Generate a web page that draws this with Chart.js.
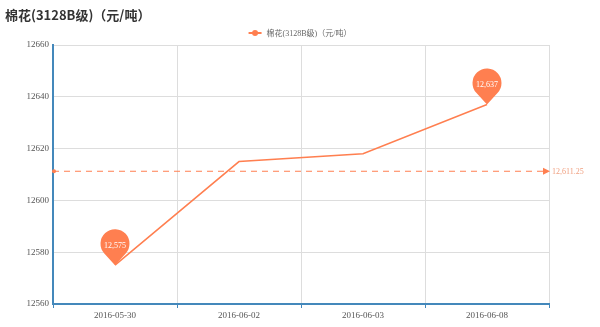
<!DOCTYPE html>
<html>
<head>
<meta charset="utf-8">
<script src="https://cdn.jsdelivr.net/npm/chart.js@4"></script>
<style>
  html, body { margin: 0; padding: 0; background: #fff; }
  #wrap { width: 600px; height: 327px; position: relative; }
</style>
</head>
<body>
<div id="wrap"><canvas id="cotton"></canvas></div>
<script>
const titleText = "棉花(3128B级)（元/吨）";
const seriesName = "棉花(3128B级)（元/吨）";
const dates = ["2016-05-30", "2016-06-02", "2016-06-03", "2016-06-08"];
const prices = [12575, 12615, 12618, 12637];
const yTicks = [12560, 12580, 12600, 12620, 12640, 12660];

const CORAL = "#ff7f50";
const AXIS = "#4488bb";
const SERIF = "'Liberation Serif', 'DejaVu Serif', 'Noto Sans CJK SC', serif";

const avg = prices.reduce((a, b) => a + b, 0) / prices.length;
const fmt = v => v.toLocaleString("en-US", { maximumFractionDigits: 2 });

// title, legend, pins and the average line
const decorations = {
    id: "decorations",
    afterDraw(chart) {
        const ctx = chart.ctx;
        const area = chart.chartArea;
        const yScale = chart.scales.y;
        ctx.save();

        // title
        ctx.fillStyle = "#333";
        ctx.font = "bold 13px 'Noto Sans CJK SC', sans-serif";
        ctx.textAlign = "left";
        ctx.textBaseline = "middle";
        ctx.fillText(titleText, 5, 15);

        // legend
        ctx.font = "8px " + SERIF;
        const tw = ctx.measureText(seriesName).width;
        const lx = 300 - (tw + 18) / 2;
        ctx.strokeStyle = CORAL;
        ctx.lineWidth = 2;
        ctx.beginPath();
        ctx.moveTo(lx, 33);
        ctx.lineTo(lx + 13, 33);
        ctx.stroke();
        ctx.fillStyle = CORAL;
        ctx.beginPath();
        ctx.arc(lx + 6.5, 33, 3, 0, Math.PI * 2);
        ctx.fill();
        ctx.fillStyle = "#666";
        ctx.fillText(seriesName, lx + 18, 33.5);

        // average mark line
        const ay = yScale.getPixelForValue(avg);
        ctx.strokeStyle = CORAL;
        ctx.lineWidth = 1;
        ctx.setLineDash([6, 5]);
        ctx.beginPath();
        ctx.moveTo(area.left, ay);
        ctx.lineTo(area.right - 4, ay);
        ctx.stroke();
        ctx.setLineDash([]);
        ctx.fillStyle = CORAL;
        ctx.beginPath();
        ctx.arc(area.left + 1, ay, 2, 0, Math.PI * 2);
        ctx.fill();
        ctx.beginPath();
        ctx.moveTo(area.right + 1, ay);
        ctx.lineTo(area.right - 6, ay - 3.5);
        ctx.lineTo(area.right - 6, ay + 3.5);
        ctx.closePath();
        ctx.fill();
        ctx.fillStyle = "#f0a080";
        ctx.font = "8px " + SERIF;
        ctx.textAlign = "left";
        ctx.fillText(fmt(avg), area.right + 3, ay + 0.5);

        // max / min pins
        const meta = chart.getDatasetMeta(0);
        const maxI = prices.indexOf(Math.max(...prices));
        const minI = prices.indexOf(Math.min(...prices));
        [maxI, minI].forEach(i => {
            const pt = meta.data[i];
            const r = 14.5, d = 21.5;
            const cx = pt.x, cy = pt.y - d;
            const th = Math.acos(r / d);
            ctx.fillStyle = CORAL;
            ctx.beginPath();
            ctx.arc(cx, cy, r, Math.PI / 2 + th, Math.PI / 2 - th + Math.PI * 2);
            ctx.lineTo(pt.x, pt.y);
            ctx.closePath();
            ctx.fill();
            ctx.fillStyle = "#fff";
            ctx.font = "8px " + SERIF;
            ctx.textAlign = "center";
            ctx.fillText(fmt(prices[i]), cx, cy + 2);
        });

        ctx.restore();
    }
};

new Chart(document.getElementById("cotton"), {
    type: "line",
    data: {
        labels: dates,
        datasets: [{
            label: seriesName,
            data: prices,
            borderColor: CORAL,
            backgroundColor: CORAL,
            borderWidth: 1.5,
            pointRadius: 0,
            tension: 0,
            fill: false
        }]
    },
    options: {
        responsive: true,
        maintainAspectRatio: false,
        animation: false,
        layout: { padding: { top: 45, right: 51, bottom: 0, left: 0 } },
        plugins: {
            legend: { display: false },
            title: { display: false },
            tooltip: { enabled: false }
        },
        scales: {
            x: {
                offset: true,
                afterFit(scale) { scale.height = 23; },
                grid: { offset: true, color: "#dddddd", tickLength: 4, tickColor: AXIS },
                border: { color: AXIS, width: 2 },
                ticks: {
                    color: "#555",
                    font: { family: SERIF, size: 9 },
                    padding: 2,
                    maxRotation: 0
                }
            },
            y: {
                min: yTicks[0],
                max: yTicks[yTicks.length - 1],
                afterFit(scale) { scale.width = 53; },
                afterBuildTicks(scale) { scale.ticks = yTicks.map(v => ({ value: v })); },
                grid: { color: "#dddddd", drawTicks: false },
                border: { color: AXIS, width: 2 },
                ticks: {
                    color: "#555",
                    font: { family: SERIF, size: 9 },
                    padding: 4,
                    callback: v => String(v)
                }
            }
        }
    },
    plugins: [decorations]
});
</script>
</body>
</html>
